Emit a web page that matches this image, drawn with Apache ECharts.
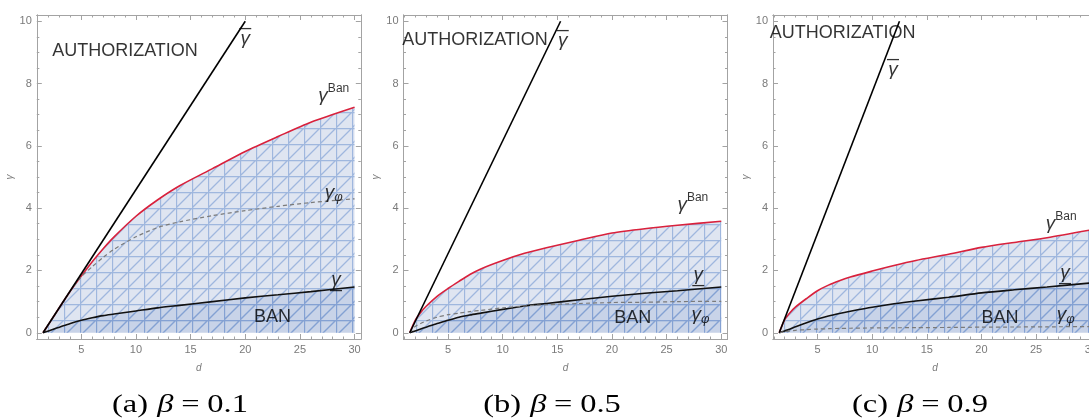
<!DOCTYPE html>
<html><head><meta charset="utf-8">
<script src="https://cdn.jsdelivr.net/npm/echarts@6/dist/echarts.min.js"></script>
<style>html,body{margin:0;padding:0;background:#fff}#c{width:1089px;height:418px}</style>
</head><body><div id="c"></div>
<script>
// ---------- data ----------
const D = [1.5, 2, 2.5, 3, 4, 5, 6, 7, 8, 10, 12, 14, 17, 20, 23, 26, 30];

const banA = [0, 0.27, 0.54, 0.81, 1.34, 1.82, 2.28, 2.70, 3.08, 3.74, 4.27, 4.72, 5.27, 5.82, 6.30, 6.76, 7.24];
const lowA = [0, 0.06, 0.12, 0.18, 0.30, 0.40, 0.48, 0.55, 0.60, 0.70, 0.80, 0.88, 1.00, 1.12, 1.22, 1.32, 1.47];
const phiA = [0, 0.27, 0.54, 0.81, 1.34, 1.80, 2.12, 2.42, 2.68, 3.08, 3.38, 3.56, 3.76, 3.92, 4.06, 4.18, 4.30];
const barA = [[1.5, 0], [20, 10]];

const banB = [0, 0.40, 0.65, 0.85, 1.17, 1.42, 1.65, 1.87, 2.05, 2.32, 2.55, 2.73, 2.97, 3.20, 3.34, 3.45, 3.58];
const lowB = [0, 0.06, 0.12, 0.18, 0.30, 0.40, 0.50, 0.57, 0.63, 0.75, 0.86, 0.94, 1.06, 1.17, 1.27, 1.35, 1.47];
const phiB = [0, 0.20, 0.30, 0.38, 0.50, 0.58, 0.63, 0.68, 0.72, 0.80, 0.86, 0.90, 0.94, 0.97, 0.98, 1.00, 1.01];
const barB = [[1.5, 0], [15.3, 10]];

const banC = [0, 0.42, 0.65, 0.83, 1.10, 1.35, 1.53, 1.67, 1.79, 1.98, 2.16, 2.32, 2.52, 2.74, 2.90, 3.05, 3.30];
const lowC = [0, 0.06, 0.12, 0.19, 0.32, 0.44, 0.54, 0.62, 0.69, 0.82, 0.93, 1.02, 1.14, 1.28, 1.38, 1.47, 1.60];
const phiC = [0, 0.04, 0.06, 0.08, 0.10, 0.12, 0.13, 0.14, 0.145, 0.155, 0.16, 0.165, 0.17, 0.18, 0.185, 0.19, 0.20];
const barC = [[1.5, 0], [12.5, 10]];

const xMajor = [5, 10, 15, 20, 25, 30];
const xMinor = [1, 2, 3, 4, 6, 7, 8, 9, 11, 12, 13, 14, 16, 17, 18, 19, 21, 22, 23, 24, 26, 27, 28, 29];
const yMajor = [0, 2, 4, 6, 8, 10];
const yMinor = [0.5, 1, 1.5, 2.5, 3, 3.5, 4.5, 5, 5.5, 6.5, 7, 7.5, 8.5, 9, 9.5];

const captions = ['(a)', '(b)', '(c)'];
const betas = ['0.1', '0.5', '0.9'];

// annotation labels: [kind, d, gamma]
const labelsA = [['AUTH', 9.0, 9.05], ['BAR', 20.0, 9.5], ['BANSUP', 28.1, 7.6], ['PHI', 28.1, 4.48], ['UNDER', 28.3, 1.63], ['BAN', 22.5, 0.5]];
const labelsB = [['AUTH', 7.47, 9.4], ['BAR', 15.5, 9.43], ['BANSUP', 27.4, 4.1], ['UNDER', 27.9, 1.79], ['PHI', 28.1, 0.57], ['BAN', 21.9, 0.47]];
const labelsC = [['AUTH', 7.3, 9.62], ['BAR', 11.9, 8.5], ['BANSUP', 27.3, 3.5], ['UNDER', 27.65, 1.85], ['PHI', 27.7, 0.57], ['BAN', 21.7, 0.47]];

// ---------- layout / style ----------
const panels = [
  {ban: banA, low: lowA, phi: phiA, bar: barA, labels: labelsA, left: 36.8, cap: 180},
  {ban: banB, low: lowB, phi: phiB, bar: barB, labels: labelsB, left: 403.5, cap: 552},
  {ban: banC, low: lowC, phi: phiC, bar: barC, labels: labelsC, left: 773, cap: 920}
];
const GT = 15, GW = 324, GH = 324;
const FF = '"Liberation Sans", Arial, sans-serif';
const SERIF = '"Liberation Serif", "DejaVu Serif", serif';
const FRAME = '#a3a3a3';

function pattern(bg, line, size) {
  const c = document.createElement('canvas');
  c.width = c.height = size;
  const g = c.getContext('2d');
  g.fillStyle = bg; g.fillRect(0, 0, size, size);
  g.strokeStyle = line; g.lineWidth = 1.3;
  g.beginPath();
  g.moveTo(0, 0.5); g.lineTo(size, 0.5);
  g.moveTo(0.5, 0); g.lineTo(0.5, size);
  g.moveTo(-1, size + 1); g.lineTo(size + 1, -1);
  g.stroke();
  return c;
}
const patLight = pattern('#dfe5f1', 'rgba(125,158,212,0.65)', 16);
const patDark = pattern('rgba(120,150,200,0.22)', 'rgba(100,135,200,0.35)', 16);

function zip(xs, ys) { return xs.map((x, i) => [x, ys[i]]); }

function xAx(i, pos, vals, len, label, name) {
  return {
    type: 'value', gridIndex: i, min: 0.93, max: 30.57, position: pos,
    axisLine: {show: true, onZero: false, lineStyle: {color: FRAME, width: 1}},
    axisTick: {show: true, inside: true, length: len, customValues: vals, lineStyle: {color: FRAME}},
    axisLabel: {show: label, customValues: vals, color: '#7a7a7a', fontSize: 11, margin: 5, fontFamily: FF, hideOverlap: false},
    splitLine: {show: false},
    name: name || '', nameLocation: 'middle', nameGap: 24,
    nameTextStyle: {color: '#7a7a7a', fontSize: 10, fontStyle: 'italic', fontFamily: FF}
  };
}
function yAx(i, pos, vals, len, label, name) {
  return {
    type: 'value', gridIndex: i, min: -0.2, max: 10.2, position: pos,
    axisLine: {show: true, onZero: false, lineStyle: {color: FRAME, width: 1}},
    axisTick: {show: true, inside: true, length: len, customValues: vals, lineStyle: {color: FRAME}},
    axisLabel: {show: label, customValues: vals, color: '#7a7a7a', fontSize: 11, margin: 5, fontFamily: FF},
    splitLine: {show: false},
    name: name || '', nameLocation: 'middle', nameGap: 22, nameRotate: 90,
    nameTextStyle: {color: '#7a7a7a', fontSize: 10, fontStyle: 'italic', fontFamily: FF}
  };
}

const rich = {
  auth: {fontSize: 18, fontFamily: FF, color: '#000'},
  g: {fontSize: 19, fontFamily: FF, fontStyle: 'italic', color: '#000'},
  sup: {fontSize: 12, fontFamily: FF, color: '#000', padding: [0, 0, 14, 0]},
  sub: {fontSize: 13, fontFamily: FF, fontStyle: 'italic', color: '#000', padding: [9, 0, 0, 0]},
  ovl: {fontSize: 12, fontFamily: FF, color: '#000', lineHeight: 4, fontWeight: 'bold'},
  gl: {fontSize: 19, fontFamily: FF, fontStyle: 'italic', color: '#000', lineHeight: 17}
};
const textFor = {
  AUTH: '{auth|AUTHORIZATION}',
  BAN: '{auth|BAN}',
  BAR: '{ovl|\u2014}\n{gl|\u03b3}',
  UNDER: '{gl|\u03b3}\n{ovl|\u2014}',
  BANSUP: '{g|\u03b3}{sup|Ban}',
  PHI: '{g|\u03b3}{sub|\u03c6}'
};

const grid = [], xAxis = [], yAxis = [], series = [], graphic = [];
panels.forEach((p, i) => {
  grid.push({left: p.left, top: GT, width: GW, height: GH, outerBoundsMode: 'none', containLabel: false});
  xAxis.push(xAx(i, 'bottom', xMajor, 5, true, 'd'));
  xAxis.push(xAx(i, 'bottom', xMinor, 2.5, false));
  xAxis.push(xAx(i, 'top', xMajor, 5, false));
  xAxis.push(xAx(i, 'top', xMinor, 2.5, false));
  yAxis.push(yAx(i, 'left', yMajor, 5, true, '\u03b3'));
  yAxis.push(yAx(i, 'left', yMinor, 2.5, false));
  yAxis.push(yAx(i, 'right', yMajor, 5, false));
  yAxis.push(yAx(i, 'right', yMinor, 2.5, false));
  const xi = i * 4, yi = i * 4;
  series.push({
    type: 'line', xAxisIndex: xi, yAxisIndex: yi, data: zip(D, p.ban), showSymbol: false,
    smooth: 0.25,
    lineStyle: {color: '#d9213c', width: 1.6},
    areaStyle: {color: {image: patLight, repeat: 'repeat'}, opacity: 1}, z: 2
  });
  series.push({
    type: 'line', xAxisIndex: xi, yAxisIndex: yi, data: zip(D, p.low), showSymbol: false,
    smooth: 0.25,
    lineStyle: {color: '#111', width: 1.6},
    areaStyle: {color: {image: patDark, repeat: 'repeat'}, opacity: 1}, z: 3
  });
  series.push({
    type: 'line', xAxisIndex: xi, yAxisIndex: yi, data: zip(D, p.phi), showSymbol: false,
    smooth: 0.25,
    lineStyle: {color: '#7b7b7b', width: 1.2, type: [4, 3]}, z: 4
  });
  series.push({
    type: 'line', xAxisIndex: xi, yAxisIndex: yi, data: p.bar, showSymbol: false,
    lineStyle: {color: '#000', width: 1.6}, z: 5
  });
  series.push({
    type: 'scatter', xAxisIndex: xi, yAxisIndex: yi, symbolSize: 0, silent: true,
    itemStyle: {color: 'rgba(0,0,0,0)'}, z: 10,
    data: p.labels.map(l => ({value: [l[1], l[2]], t: textFor[l[0]]})),
    label: {show: true, position: 'inside', color: '#000', textBorderWidth: 0, formatter: q => q.data.t, rich: rich, align: 'center', verticalAlign: 'middle'}
  });
  graphic.push({
    type: 'text', x: p.cap, y: 405, scaleX: 1.3, scaleY: 1,
    style: {
      text: '{t|' + captions[i] + '}{b|\u03b2}{e|=}{t|' + betas[i] + '}',
      fill: '#000', align: 'center', verticalAlign: 'middle',
      rich: {
        t: {fontSize: 25, fontFamily: SERIF},
        b: {fontSize: 25, fontFamily: SERIF, fontStyle: 'italic', padding: [0, 0, 0, 7]},
        e: {fontSize: 25, fontFamily: SERIF, padding: [0, 6, 0, 6]}
      }
    }
  });
});

const chart = echarts.init(document.getElementById('c'), null, {renderer: 'canvas'});
chart.setOption({animation: false, grid, xAxis, yAxis, series, graphic});
</script>
</body></html>
